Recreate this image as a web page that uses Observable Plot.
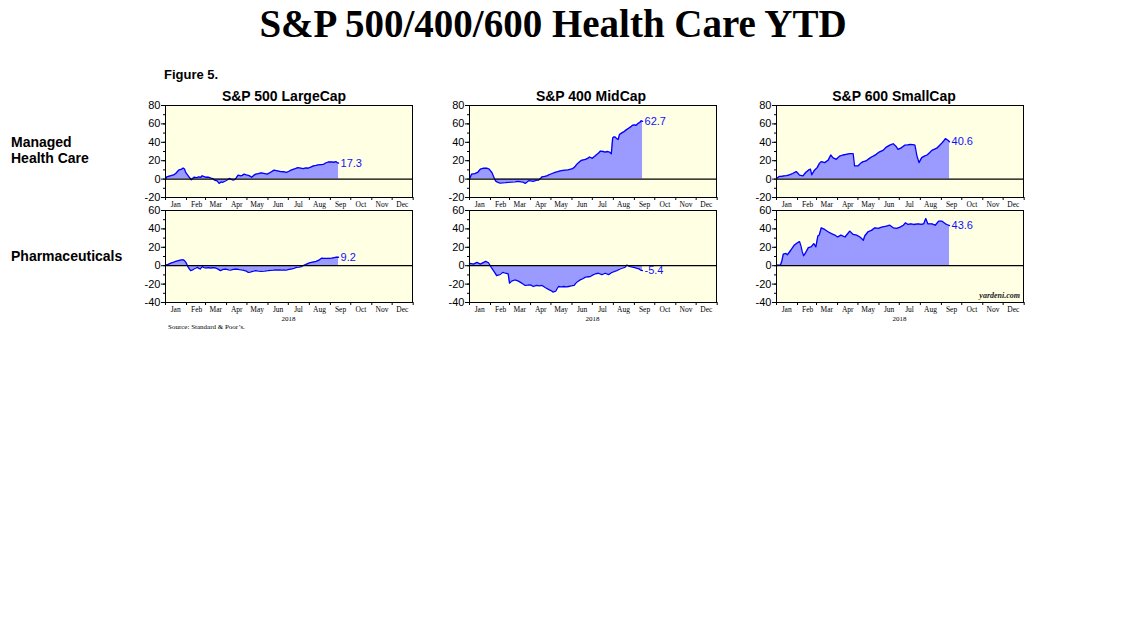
<!DOCTYPE html>
<html><head><meta charset="utf-8">
<script src="https://cdn.jsdelivr.net/npm/d3@7"></script>
<script src="https://cdn.jsdelivr.net/npm/@observablehq/plot@0.6"></script>
<style>
body{margin:0;background:#fff;}
#root{position:relative;width:1138px;height:621px;overflow:hidden;font-family:"Liberation Sans",Arial,sans-serif;}
#overlay{position:absolute;left:0;top:0;pointer-events:none;}
</style></head><body><div id="root"></div>
<script>
// ---- DATA: [day of 2018, YTD % change] ----
const monthLabels = ["Jan","Feb","Mar","Apr","May","Jun","Jul","Aug","Sep","Oct","Nov","Dec"];
const columnTitles = ["S&P 500 LargeCap","S&P 400 MidCap","S&P 600 SmallCap"];
const rowTitles = [["Managed","Health Care"],["Pharmaceuticals"]];
const topTicks = [-20,0,20,40,60,80];
const bottomTicks = [-40,-20,0,20,40,60];

const largeManaged = [[0,0],[2,2.5],[7,3.6],[12,4.5],[15,6],[18,8.5],[20,10],[23,10.5],[26,12],[28,11],[30,7],[33,4],[35,2],[38,-0.7],[42,2],[46,1.5],[49,2.5],[52,2],[54,3.6],[57,2.8],[59,2],[63,2.2],[67,1],[70,0.5],[72,-1],[76,-2],[79,-4.7],[82,-3],[84,-3.6],[89,-1.8],[92,-0.5],[94,0.7],[99,-1],[102,-0.5],[104,1],[107,4.3],[111,3.6],[113,4],[116,5.4],[119,4.5],[121,4.3],[124,3.5],[127,2],[130,4],[133,5.4],[137,6],[141,6.8],[145,6.2],[150,5.4],[155,7.5],[160,9.7],[165,9],[170,8.2],[174,8],[178,7.2],[182,8.5],[185,9.7],[190,11],[195,12.5],[199,12],[203,11.5],[207,12.2],[210,11.8],[214,13],[218,14.3],[222,14.8],[225,15.4],[229,15.8],[233,16.1],[236,17.5],[240,18.6],[244,18.8],[248,18.3],[251,19],[253,18],[255,17.3]];
const largePharma = [[0,0.7],[4,1.5],[7,2.5],[11,3.5],[15,4.7],[19,5.5],[22,6.1],[26,6.5],[28,5.5],[30,3.6],[33,-1],[35,-3.5],[37,-5.4],[40,-4.5],[42,-3.6],[45,-2.5],[47,-1.8],[49,-3],[51,-3.6],[54,-1],[57,-2],[59,-2.5],[63,-2],[67,-2.5],[70,-2],[74,-2.5],[78,-4],[81,-5.4],[85,-4],[89,-3.6],[93,-4.5],[96,-4.7],[100,-4],[104,-3.6],[109,-4.2],[114,-4.7],[118,-5.5],[122,-7.2],[125,-7],[127,-6.5],[130,-5.8],[133,-5.4],[137,-5.8],[141,-6.1],[146,-5.8],[151,-5.4],[155,-5],[160,-4.7],[165,-4.5],[170,-4.7],[174,-4.5],[178,-4.7],[182,-4],[185,-3.6],[189,-2.8],[193,-1.8],[197,-1.5],[200,-1],[204,0.5],[208,1.8],[212,3],[215,3.6],[219,4.2],[222,4.7],[226,6],[230,8.2],[233,8],[237,7.9],[241,8],[245,8.2],[249,8.8],[252,9.3],[255,9.2]];
const midManaged = [[0,0],[1,1.8],[3.5,5.4],[8,6],[12,7.2],[16,10.8],[21,11.8],[26,11.8],[29,10.8],[33,7.2],[37,0],[39,-2.5],[42,-3.5],[45,-4.3],[49,-4],[53,-3.9],[57,-3.5],[62,-3.2],[67,-3],[72,-2.5],[76,-3],[80,-3.6],[82,-4.7],[85,-3],[87,-1.8],[90,-2],[94,-2.5],[98,-1.5],[102,-1],[105,1],[107,2.5],[111,3],[114,3.6],[118,5],[122,6.1],[126,7.2],[130,8],[134,9],[138,9.5],[141,9.7],[145,10],[149,10.8],[152,11.5],[154,12.5],[156,14],[158,16],[161,18],[165,20.4],[168,21],[171,21.5],[174,22.5],[177,24],[181,22.6],[185,25],[188,26.9],[191,29],[193,30.5],[197,30],[200,29.4],[203,30],[205,29.7],[207,29],[209,27.6],[211,44.8],[213,46],[215,45.5],[217,44],[219,43],[221,48.4],[224,50],[227,51.3],[231,53.5],[235,55.6],[238,57],[240,58.4],[243,59],[245,58.4],[247,59.5],[249,60.9],[251,61.5],[252,62.7],[253,63.4],[255,62.7]];
const midPharma = [[0,2],[1,2.5],[6,1.8],[11,3.6],[16,1.8],[21,3.6],[24,4.7],[28,3.2],[32,-1.8],[35,-5],[37,-7.2],[40,-10.8],[43,-10],[45,-9.7],[49,-7.2],[53,-8.2],[57,-9],[58,-14],[59,-19],[62,-16.8],[67,-15.4],[72,-16.8],[77,-19],[80,-20.5],[82,-21.5],[86,-21],[90,-20.8],[94,-22.6],[99,-21.5],[103,-22],[107,-21.5],[112,-24],[117,-26],[120,-27],[123,-28.7],[127,-27.6],[131,-22.6],[135,-23],[139,-22.6],[143,-23],[146,-22.6],[150,-22],[154,-21.5],[158,-17.9],[163,-15.4],[167,-14],[171,-12.5],[175,-12],[178,-11.8],[182,-10],[185,-9],[190,-8.2],[195,-9.7],[200,-8.2],[205,-9.7],[210,-7.2],[213,-6.5],[217,-5.4],[222,-3.6],[226,-2.5],[229,-1.8],[232,0.7],[235,-0.5],[237,-1.1],[242,-1.8],[247,-2.9],[250,-3.5],[252,-4.7],[255,-5.4]];
const smallManaged = [[0,0.7],[4,2.9],[8,3],[11,3.6],[15,3.8],[19,4.7],[24,6.1],[29,8.2],[32,6],[34,4.3],[39,3.6],[43,7.2],[47,9.7],[50,10.8],[52,4.7],[56,9.7],[60,12.5],[63,16.8],[66,19],[71,17.9],[76,20.4],[80,26.2],[83,23.3],[88,21.5],[93,25],[98,26.2],[103,26.9],[108,27.6],[113,27.6],[115,14.3],[120,14.3],[125,17.9],[128,19],[132,19.7],[136,22],[140,24],[144,25.5],[147,26.9],[152,29.7],[157,31.2],[162,34.8],[167,36.9],[172,38.4],[176,35.8],[179,32.3],[184,34],[189,36.9],[193,37.2],[197,37.6],[201,37.5],[204,36.9],[207,25.1],[210,17.9],[214,23.3],[218,25],[222,26.2],[226,29],[229,31.2],[233,32.5],[237,34],[241,37],[244,39.4],[247,42],[249,44],[251,43],[253,41.9],[255,40.6]];
const smallPharma = [[0,0.7],[6,0.7],[8,5.4],[10,12.5],[14,13.3],[16,11.8],[21,16.8],[26,22.2],[31,25],[34,26.2],[36,21.5],[38,15],[40,10.8],[43.5,14.3],[47,19.7],[51,20.4],[55,24],[58,20.4],[61,32.3],[63,33.3],[66,41.2],[71,39.4],[76,36.9],[81,34.8],[86,33.3],[90,31.2],[95,33.3],[101,31.2],[108,37.6],[113,34],[118,33.3],[123,31.2],[128,27.6],[130,32.3],[135,36.9],[140,38.4],[145,41.2],[150,40.5],[155,41.9],[162,43],[167,44],[172,41.2],[177,40.5],[182,41.9],[187,44],[190,46.6],[194,44.8],[198,45.5],[202,44.8],[209,45.5],[213,45],[217,45.5],[220,51.3],[223,45.5],[229,45.5],[234,44],[239,48.4],[244,48.4],[249,45.5],[252,44.5],[255,43.6]];

const endLabels = [["17.3","62.7","40.6"],["9.2","-5.4","43.6"]];
const series = [[largeManaged, midManaged, smallManaged],[largePharma, midPharma, smallPharma]];

// ---- LAYOUT ----
const root = document.getElementById("root");
const frameX = [165, 469, 776];
const frameW = 247;
const frameY = [104.5, 210];
const frameH = 92;
const ML = 34, MR = 34, MT = 10, MB = 18;
const toDate = d => new Date(Date.UTC(2018, 0, 1 + d));
const monthStarts = d3.range(13).map(m => new Date(Date.UTC(2018, m, 1)));
const monthMids = d3.range(12).map(m => new Date(Date.UTC(2018, m, 16)));
const labelOf = new Map(monthMids.map((d, i) => [+d, monthLabels[i]]));

rowTitles.forEach((_, r) => {
  const ticks = r === 0 ? topTicks : bottomTicks;
  const dom = [ticks[0], ticks[ticks.length - 1]];
  const minor = d3.range(dom[0], dom[1] + 1, 10);
  columnTitles.forEach((_, c) => {
    const data = series[r][c].map(([d, v]) => ({date: toDate(d), v}));
    const last = data[data.length - 1];
    const chart = Plot.plot({
      width: ML + frameW + MR,
      height: MT + frameH + MB,
      marginLeft: ML, marginRight: MR, marginTop: MT, marginBottom: MB,
      style: {background: "none", overflow: "visible", fontFamily: "'Liberation Sans', Arial, sans-serif"},
      x: {type: "utc", domain: [new Date(Date.UTC(2018,0,1)), new Date(Date.UTC(2018,11,31))]},
      y: {domain: dom},
      marks: [
        Plot.frame({fill: "#ffffe3", stroke: null}),
        Plot.areaY(data, {x: "date", y: "v", fill: "#9a9aff"}),
        Plot.lineY(data, {x: "date", y: "v", stroke: "#0000ff", strokeWidth: 1.3}),
        Plot.ruleY([0], {stroke: "#000", strokeWidth: 1.2}),
        Plot.frame({stroke: "#000", strokeWidth: 1}),
        Plot.axisY(ticks, {tickSize: 4, tickPadding: 1, tickFormat: d => String(d), fontSize: 11, fill: "#000", stroke: "#000", label: null}),
        Plot.axisY(minor, {tickSize: 2, tickFormat: () => "", stroke: "#000", label: null}),
        Plot.axisX(monthStarts, {tickSize: 3, tickFormat: () => "", stroke: "#000", label: null}),
        Plot.axisX(monthMids, {tickSize: 0, tickPadding: 4, tickFormat: d => labelOf.get(+d), fontSize: 7.5, fontFamily: "'Liberation Serif', 'Times New Roman', serif", fill: "#000", label: null}),
        Plot.text([last], {x: "date", y: "v", text: () => endLabels[r][c], textAnchor: "start", dx: 2, fill: "#1010ff", fontSize: 11})
      ]
    });
    chart.style.position = "absolute";
    chart.style.left = (frameX[c] - ML) + "px";
    chart.style.top = (frameY[r] - MT) + "px";
    chart.style.maxWidth = "none";
    root.appendChild(chart);
  });
});

// ---- TEXT OVERLAY ----
const svg = d3.select(root).append("svg").attr("id", "overlay").attr("width", 1138).attr("height", 621);
const sans = "'Liberation Sans', Arial, sans-serif";
const serif = "'Liberation Serif', 'Times New Roman', serif";
svg.append("text").attr("x", 553).attr("y", 37).attr("text-anchor", "middle")
  .attr("font-family", serif).attr("font-weight", "bold").attr("font-size", 39)
  .text("S&P 500/400/600 Health Care YTD");
svg.append("text").attr("x", 164).attr("y", 79).attr("font-family", sans).attr("font-weight", "bold").attr("font-size", 13).text("Figure 5.");
const titleCx = [284, 591, 894];
columnTitles.forEach((t, c) => {
  svg.append("text").attr("x", titleCx[c]).attr("y", 101).attr("text-anchor", "middle")
    .attr("font-family", sans).attr("font-weight", "bold").attr("font-size", 14).text(t);
  svg.append("text").attr("x", frameX[c] + frameW / 2).attr("y", 321).attr("text-anchor", "middle")
    .attr("font-family", serif).attr("font-size", 7).text("2018");
});
const rowY = [[147, 163], [261]];
rowTitles.forEach((lines, r) => lines.forEach((t, i) => {
  svg.append("text").attr("x", 11).attr("y", rowY[r][i]).attr("font-family", sans).attr("font-weight", "bold").attr("font-size", 14).text(t);
}));
svg.append("text").attr("x", 168).attr("y", 329).attr("font-family", serif).attr("font-size", 7).text("Source: Standard & Poor\u2019s.");
svg.append("text").attr("x", 1020).attr("y", 298).attr("text-anchor", "end").attr("font-family", serif)
  .attr("font-style", "italic").attr("font-weight", "bold").attr("font-size", 8).attr("fill", "#222").text("yardeni.com");
</script></body></html>
